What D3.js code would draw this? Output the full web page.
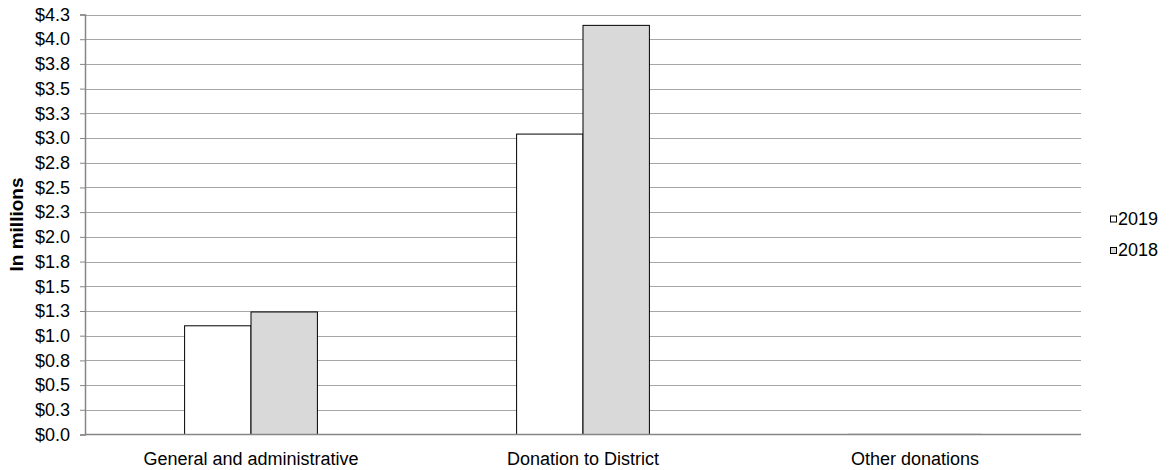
<!DOCTYPE html>
<html><head><meta charset="utf-8">
<script src="https://cdn.jsdelivr.net/npm/d3@7"></script>
<style>body{margin:0;background:#fff;} text{font-family:"Liberation Sans",Arial,sans-serif;}</style>
</head><body><svg id="c" width="1172" height="470"></svg>
<script>
const categories = ["General and administrative", "Donation to District", "Other donations"];
const seriesNames = ["2019", "2018"];
const values2019 = [1.10, 3.04, 0.004];
const values2018 = [1.24, 4.14, 0.004];
const tickValues = [0,0.25,0.5,0.75,1,1.25,1.5,1.75,2,2.25,2.5,2.75,3,3.25,3.5,3.75,4,4.25];
const colors = ["#ffffff", "#d9d9d9"];

const svg = d3.select("#c");
const m = {l:85, r:1081, t:14.5, b:434.5};
const x = d3.scaleBand().domain(categories).range([m.l, m.r]).paddingInner(0).paddingOuter(0);
const x1 = d3.scaleBand().domain(seriesNames).range([0, x.bandwidth()*0.4]);
const y = d3.scaleLinear().domain([0, 4.25]).range([m.b, m.t]);

// gridlines
svg.append("g").selectAll("line").data(tickValues.slice(1)).join("line")
  .attr("x1", m.l).attr("x2", m.r)
  .attr("y1", d=>Math.round(y(d))+0.5).attr("y2", d=>Math.round(y(d))+0.5)
  .attr("stroke", "#a6a6a6").attr("stroke-width", 1);

// y axis
const ya = svg.append("g").attr("transform", `translate(${m.l},0)`)
  .call(d3.axisLeft(y).tickValues(tickValues).tickSize(5).tickFormat(d=>"$"+d.toFixed(1)));
ya.select(".domain").attr("stroke", "#868686").attr("stroke-width", 1.5);
ya.selectAll(".tick line").attr("stroke", "#868686");
ya.selectAll(".tick text").attr("font-size", 18).attr("fill", "#000").attr("x", -15)
  .style("font-family", '"Liberation Sans",Arial,sans-serif');

// bars
const data = categories.map((c,i)=>({c, vals:[{s:"2019", v:values2019[i]},{s:"2018", v:values2018[i]}]}));
const g = svg.append("g").selectAll("g").data(data).join("g")
  .attr("transform", d=>`translate(${x(d.c) + x.bandwidth()*0.3},0)`);
g.selectAll("rect").data(d=>d.vals).join("rect")
  .attr("x", d=>x1(d.s)).attr("width", x1.bandwidth())
  .attr("y", d=>y(d.v)).attr("height", d=>y(0)-y(d.v))
  .attr("fill", (d,i)=>colors[i]).attr("stroke", d=>d.v<0.01?"#c8c8c8":"#000").attr("stroke-width", 1);

// x axis
svg.append("line").attr("x1", m.l).attr("x2", m.r).attr("y1", m.b).attr("y2", m.b)
  .attr("stroke", "#868686").attr("stroke-width", 1.5);
svg.append("g").selectAll("text").data(categories).join("text")
  .attr("x", d=>x(d)+x.bandwidth()/2).attr("y", 464.5).attr("text-anchor", "middle")
  .attr("font-size", 18).text(d=>d);

// y title
svg.append("text").attr("transform", `translate(23,${(m.t+m.b)/2}) rotate(-90)`)
  .attr("text-anchor", "middle").attr("font-size", 19).attr("font-weight", "bold").text("In millions");

// legend
const lg = svg.append("g").selectAll("g").data(seriesNames).join("g")
  .attr("transform", (d,i)=>`translate(1110,${224.5+i*31.5})`);
lg.append("rect").attr("x", 0.5).attr("y", -8.5).attr("width", 6).attr("height", 6)
  .attr("fill", (d,i)=>colors[i]).attr("stroke", "#000").attr("stroke-width", 1);
lg.append("text").attr("x", 8).attr("y", 0).attr("font-size", 18).text(d=>d);
</script></body></html>
